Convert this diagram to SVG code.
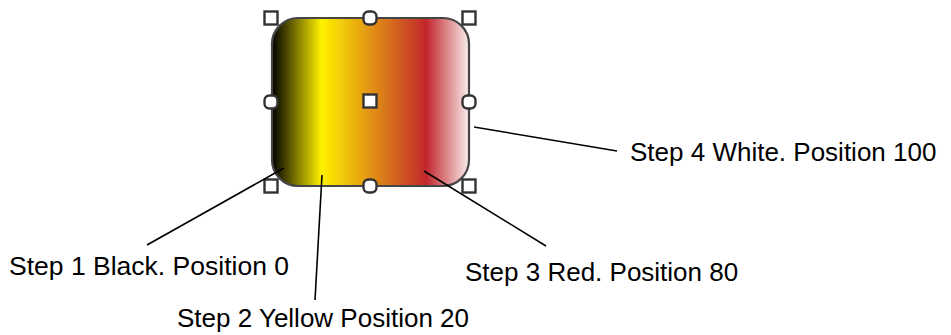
<svg xmlns="http://www.w3.org/2000/svg" width="951" height="335" viewBox="0 0 951 335">
<style>
.lbl{font-family:"Liberation Sans",Arial,sans-serif;font-size:26px;fill:#000}
.ln{stroke:#000;stroke-width:1.6;fill:none}
.h{fill:#fff;stroke:#333;stroke-width:2.4}
</style>
<defs>
<linearGradient id="g" x1="272" y1="0" x2="470" y2="0" gradientUnits="userSpaceOnUse">
<stop offset="0" stop-color="#000"/>
<stop offset="0.25" stop-color="#FFF200"/>
<stop offset="0.78" stop-color="#C1272D"/>
<stop offset="1" stop-color="#FBF2F2"/>
</linearGradient>
<filter id="b" x="-10%" y="-10%" width="120%" height="120%"><feGaussianBlur stdDeviation="0.6"/></filter>
</defs>
<rect width="951" height="335" fill="#fff"/>
<g id="shape">
<rect x="272" y="18" width="197" height="168" rx="26" ry="26" fill="url(#g)" stroke="#444" stroke-width="2.2" filter="url(#b)"/>
</g>
<g id="handles" filter="url(#b)">
<rect class="h" x="264.5" y="11.5" width="13" height="13"/>
<rect class="h" x="462.5" y="11.5" width="13" height="13"/>
<rect class="h" x="264.5" y="179.5" width="13" height="13"/>
<rect class="h" x="462.5" y="179.5" width="13" height="13"/>
<rect class="h" x="363.5" y="94.5" width="13" height="13"/>
<rect class="h" x="363.5" y="11.5" width="13" height="13" rx="5"/>
<rect class="h" x="264.5" y="95.5" width="13" height="13" rx="5"/>
<rect class="h" x="462.5" y="95.5" width="13" height="13" rx="5"/>
<rect class="h" x="363.5" y="179.5" width="13" height="13" rx="5"/>
</g>
<g id="connectors">
<line class="ln" x1="284" y1="168" x2="147" y2="245"/>
<line class="ln" x1="322" y1="175" x2="315" y2="300"/>
<line class="ln" x1="424" y1="171" x2="546" y2="246"/>
<line class="ln" x1="474" y1="127" x2="617" y2="151"/>
</g>
<g id="label1"><text class="lbl" x="9" y="275" textLength="280" lengthAdjust="spacingAndGlyphs">Step 1 Black. Position 0</text></g>
<g id="label2"><text class="lbl" x="177" y="327">Step 2 Yellow Position 20</text></g>
<g id="label3"><text class="lbl" x="465" y="281">Step 3 Red. Position 80</text></g>
<g id="label4"><text class="lbl" x="630" y="161">Step 4 White. Position 100</text></g>
</svg>
